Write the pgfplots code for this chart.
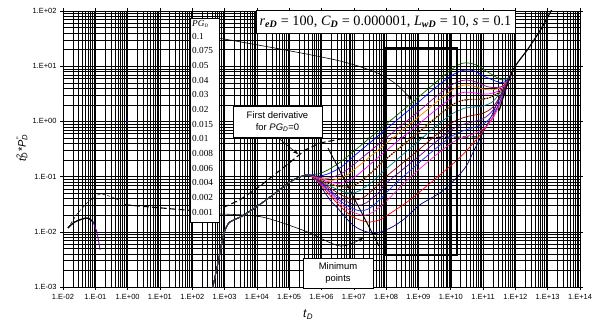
\documentclass[border=0pt]{standalone}
\usepackage{pgfplots}
\pgfplotsset{compat=1.18}
\usepackage{fontspec}
\setmainfont{Liberation Serif}
\setsansfont{Liberation Sans}
\usetikzlibrary{arrows.meta}
\definecolor{cgreen}{RGB}{0,100,0}
\definecolor{cblue}{RGB}{0,0,255}
\definecolor{cpurple}{RGB}{153,0,153}
\definecolor{corange}{RGB}{255,128,0}
\definecolor{cmagenta}{RGB}{255,0,255}
\definecolor{cteal}{RGB}{0,128,128}
\definecolor{cbrown}{RGB}{128,0,0}
\definecolor{cpurpleb}{RGB}{102,0,153}
\definecolor{cblueb}{RGB}{40,40,255}
\definecolor{cmagentab}{RGB}{255,40,200}
\definecolor{cred}{RGB}{255,0,0}
\definecolor{cnavy}{RGB}{0,0,128}
\newcommand{\C}{(4e2,7.94e-4) (6.31e2,2.82e-3) (8.91e2,7.94e-3) (1.12e3,1.2e-2) (1.41e3,1.48e-2) (2e3,1.66e-2) (3.16e3,1.86e-2) (5.01e3,2.19e-2) (1.58e4,3.47e-2) (5.01e4,5.75e-2) (1.26e5,8.51e-2) (2.51e5,1.02e-1) (3.98e5,1.07e-1)}
\begin{document}
\begin{tikzpicture}
\path[use as bounding box] (-63bp,-37bp) rectangle (529bp,287bp);
\begin{axis}[
  scale only axis, width=517bp, height=276bp,
  xmode=log, ymode=log, xmin=1e-2, xmax=1e14, ymin=1e-3, ymax=1e2,
  xtick={1e-2,1e-1,1,1e1,1e2,1e3,1e4,1e5,1e6,1e7,1e8,1e9,1e10,1e11,1e12,1e13,1e14},
  xticklabels={1.E-02,1.E-01,1.E+00,1.E+01,1.E+02,1.E+03,1.E+04,1.E+05,1.E+06,1.E+07,1.E+08,1.E+09,1.E+10,1.E+11,1.E+12,1.E+13,1.E+14},
  ytick={1e-3,1e-2,1e-1,1,1e1,1e2},
  yticklabels={1.E-03,1.E-02,1.E-01,1.E+00,1.E+01,1.E+02},
  grid=both,
  major grid style={black, line width=0.55pt},
  minor grid style={black, line width=0.4pt},
  tick align=outside, major tick length=3bp, minor tick length=0pt,
  tick style={black, line width=0.6pt},
  ticklabel style={font=\sffamily\fontsize{7.5}{9}\selectfont},
  xticklabel style={yshift=-1bp},
  axis line style={black, line width=0.8pt},
  xlabel={\textit{t}\textsubscript{\textit{D}}},
  xlabel style={font=\sffamily\fontsize{12}{14}\selectfont, at={(axis description cs:0.474,-0.1014)}, anchor=center},
  ylabel={\textit{t}\rlap{\textsuperscript{2}}\textsubscript{\textit{D}}*\textit{P}\rlap{\textsuperscript{\,''}}\textsubscript{\textit{D}}},
  ylabel style={font=\sffamily\fontsize{11}{13}\selectfont, at={(axis description cs:-0.0793,0.504)}, anchor=center, rotate=0},
  every axis plot/.append style={line width=0.7pt},
]
% early-time curves near the left
\addplot[black, line width=0.5pt, dash pattern=on 3pt off 2pt] coordinates {(1.41e-2,1.17e-2) (2.88e-2,2.19e-2) (5.89e-2,3.47e-2) (1.20e-1,4.68e-2) (1.74e-1,4.79e-2) (3.31e-1,4.27e-2) (5.01e-1,3.80e-2)};
\addplot[black, line width=1.1pt, dash pattern=on 6pt off 3pt] coordinates {(8.32e-1,3.09e-2) (2.95e1,2.57e-2) (8.51e1,2.45e-2) (8.32e2,2.69e-2) (3.02e3,3.80e-2) (1.26e4,6.76e-2) (1.07e5,1.82e-1) (3.09e5,3.02e-1) (9.12e5,4.07e-1) (3.80e6,4.79e-1) (6.46e7,5.01e-1) (6.61e10,5.25e-1)};
\addplot[black, line width=1.4pt, smooth] coordinates {(1.41e-2,1.17e-2) (2.34e-2,1.51e-2) (5.50e-2,1.78e-2) (8.51e-2,1.51e-2)};
\addplot[cpurpleb, line width=0.9pt] coordinates {(8.51e-2,1.51e-2) (1.12e-1,1e-2) (1.41e-1,4.68e-3)};
\addplot[only marks, mark=*, mark size=0.7pt, cblue] coordinates {(1,1)};
% PG_D curves
\addplot[cnavy, smooth] coordinates {\C (6.31e5,9.55e-2) (1e6,6.31e-2) (2e6,3.55e-2) (3.16e6,2.69e-2) (7.94e6,1.45e-2) (1.58e7,1.10e-2) (3.98e7,9.33e-3) (6.31e7,9.77e-3) (1.58e8,1.23e-2) (3.98e8,1.78e-2) (1.12e9,3.09e-2) (5.01e9,5.25e-2) (1.58e10,9.77e-2) (3.16e10,1.62e-1) (5.01e10,2.82e-1) (1e11,6.31e-1) (2e11,1.41) (3.98e11,3.55) (7.94e11,7.94)};
\addplot[cred, smooth] coordinates {\C (7.94e5,7.94e-2) (1.58e6,5.01e-2) (3.98e6,2.82e-2) (1e7,1.82e-2) (2.57e7,1.51e-2) (5.01e7,1.58e-2) (7.94e7,1.78e-2) (4.47e8,3.47e-2) (2.29e9,7.59e-2) (1.58e10,2e-1) (3.98e10,3.47e-1) (1e11,6.61e-1) (2e11,1.20) (3.98e11,2.82) (7.94e11,7.94)};
\addplot[cmagentab, smooth] coordinates {\C (7.94e5,8.13e-2) (1.58e6,5.50e-2) (3.98e6,3.16e-2) (1e7,2.24e-2) (2e7,2.0e-2) (3.98e7,2.29e-2) (1e8,3.55e-2) (3.16e8,7.08e-2) (1e9,1.32e-1) (3.16e9,2.34e-1) (1e10,3.98e-1) (2e10,4.90e-1) (3.98e10,5.62e-1) (1e11,7.24e-1) (2e11,1.12) (3.98e11,2.63) (7.94e11,7.94)};
\addplot[cblueb, smooth] coordinates {\C (7.94e5,8.32e-2) (1.58e6,5.75e-2) (3.98e6,3.55e-2) (7.94e6,2.75e-2) (1.58e7,2.40e-2) (3.16e7,2.69e-2) (7.94e7,4.37e-2) (2e8,7.59e-2) (1e9,1.74e-1) (3.16e9,3.09e-1) (1e10,5.25e-1) (2e10,6.46e-1) (3.98e10,7.41e-1) (1e11,8.91e-1) (2e11,1.32) (3.98e11,2.88) (7.94e11,7.94)};
\addplot[cpurpleb, smooth] coordinates {\C (7.94e5,8.51e-2) (1.58e6,6.17e-2) (3.98e6,3.98e-2) (1.26e7,3.02e-2) (2.51e7,3.39e-2) (6.31e7,5.37e-2) (1e8,7.59e-2) (1e9,2.29e-1) (3.16e9,4.07e-1) (1e10,6.92e-1) (2e10,8.51e-1) (3.98e10,9.55e-1) (1e11,1.12) (2e11,1.58) (3.98e11,3.16) (7.94e11,7.94)};
\addplot[cbrown, smooth] coordinates {\C (7.94e5,8.71e-2) (1.58e6,6.61e-2) (3.98e6,4.68e-2) (1e7,3.80e-2) (2e7,4.17e-2) (5.01e7,6.61e-2) (1e8,1e-1) (1e9,3.02e-1) (3.16e9,5.37e-1) (1e10,9.12e-1) (2e10,1.12) (3.98e10,1.26) (1e11,1.41) (2e11,1.82) (3.98e11,3.39) (7.94e11,7.94)};
\addplot[cteal, smooth] coordinates {\C (7.94e5,8.91e-2) (1.58e6,7.08e-2) (3.98e6,5.50e-2) (8.32e6,5.01e-2) (1.58e7,5.62e-2) (3.98e7,8.32e-2) (1e8,1.38e-1) (1e9,4.37e-1) (3.16e9,7.76e-1) (1e10,1.32) (1.78e10,1.58) (2.82e10,1.74) (5.01e10,1.82) (1e11,1.91) (2e11,2.29) (3.98e11,3.80) (7.94e11,7.94)};
\addplot[corange, smooth] coordinates {\C (7.94e5,9.12e-2) (1.58e6,7.59e-2) (3.16e6,6.76e-2) (6.31e6,6.46e-2) (1.26e7,7.41e-2) (3.16e7,1.12e-1) (1e8,2.09e-1) (1e9,6.31e-1) (3.16e9,1.12) (1e10,1.91) (1.78e10,2.29) (2.82e10,2.45) (5.01e10,2.51) (7.94e10,2.51) (1.58e11,2.69) (3.16e11,3.39) (5.01e11,4.79) (7.94e11,7.94)};
\addplot[black, line width=1.2pt, dash pattern=on 1.2pt off 1.6pt, smooth] coordinates {\C (7.94e5,9.12e-2) (1.58e6,7.59e-2) (3.16e6,6.76e-2) (6.31e6,6.46e-2) (1.26e7,7.41e-2) (3.16e7,1.12e-1) (1e8,2.09e-1) (1e9,6.31e-1) (3.16e9,1.12) (1e10,1.91) (1.78e10,2.29) (2.82e10,2.45) (5.01e10,2.51) (7.94e10,2.51) (1.58e11,2.69) (3.16e11,3.39) (5.01e11,4.79) (7.94e11,7.94)};
\addplot[cmagenta, smooth] coordinates {\C (7.94e5,9.33e-2) (1.58e6,8.13e-2) (3.55e6,7.59e-2) (7.94e6,8.71e-2) (2e7,1.32e-1) (1e8,2.95e-1) (1e9,8.91e-1) (3.16e9,1.55) (1e10,2.63) (1.78e10,3.16) (2.82e10,3.39) (5.01e10,3.31) (7.94e10,3.16) (1.58e11,3.16) (3.16e11,3.63) (5.01e11,4.79) (7.94e11,7.94)};
\addplot[corange, smooth] coordinates {\C (7.94e5,9.55e-2) (2e6,8.51e-2) (5.01e6,1e-1) (1e7,1.32e-1) (1e8,3.98e-1) (1e9,1.20) (3.16e9,2.09) (1e10,3.55) (1.78e10,4.27) (2.82e10,4.57) (5.01e10,4.37) (7.94e10,3.98) (1.58e11,3.72) (3.16e11,3.98) (5.01e11,5.01) (7.94e11,7.94)};
\addplot[cpurple, smooth] coordinates {\C (7.94e5,9.77e-2) (1.58e6,9.33e-2) (3.98e6,1.12e-1) (1e7,1.66e-1) (1e8,5.01e-1) (1e9,1.51) (3.16e9,2.69) (1e10,4.47) (1.78e10,5.25) (2.82e10,5.62) (5.01e10,5.37) (7.94e10,4.79) (1.58e11,4.17) (3.16e11,4.17) (5.01e11,4.79) (7.94e11,7.94)};
\addplot[cblue, smooth] coordinates {\C (7.94e5,1.02e-1) (1.58e6,1.12e-1) (3.98e6,1.48e-1) (1e7,2.34e-1) (1e8,7.24e-1) (1e9,2.24) (3.16e9,3.98) (1e10,6.61) (1.78e10,7.94) (2.82e10,8.51) (5.01e10,8.32) (7.94e10,7.24) (1.26e11,6.31) (2e11,5.62) (3.16e11,5.13) (4.47e11,5.13) (6.31e11,6.03) (7.94e11,7.94)};
\addplot[cgreen, smooth] coordinates {\C (7.94e5,1.12e-1) (1.58e6,1.32e-1) (3.98e6,1.86e-1) (1e7,2.88e-1) (1e8,8.91e-1) (1e9,2.75) (3.16e9,4.90) (1e10,8.51) (1.78e10,10.7) (2.82e10,11.5) (5.01e10,11.0) (7.94e10,9.77) (1.26e11,8.13) (2e11,6.92) (3.16e11,5.89) (4.47e11,5.62) (6.31e11,6.31) (7.94e11,7.94)};
\addplot[black, line width=1.2pt, smooth] coordinates {(3.16e11,1.58) (7.94e11,7.94) (2.51e12,20.9) (6.31e12,47.9) (1.58e13,126)};
\end{axis}
\begin{scope}[x=1bp, y=-1bp, shift={(-63bp,287bp)}]
  % zoom rectangle and minimum locus
  \draw[line width=1.2pt] (385,48) rectangle (457,255);
  \draw[line width=0.9pt] (328,148) -- (379,246);
  % arrows from legend labels
  \draw[line width=0.6pt, -{Stealth[length=5bp,width=4bp]}] plot[smooth] coordinates {(207,36) (280,49) (340,61) (375,72) (396,84) (412,100)};
  \draw[line width=0.6pt, -{Stealth[length=5bp,width=4bp]}] plot[smooth] coordinates {(220,214) (262,217) (305,231) (340,246) (363,238)};
  % legend box
  \draw[fill=white, line width=0.6pt] (190,18) rectangle (219,222);
  \begin{scope}[every node/.style={anchor=west, inner sep=0pt, font=\fontsize{9.3}{10}\selectfont}]
    \node at (192,24) {\textit{PG}\textsubscript{\textit{\fontsize{5}{5}\selectfont D}}};
    \node at (192,36.0) {0.1};
    \node at (192,50.7) {0.075};
    \node at (192,65.3) {0.05};
    \node at (192,80.0) {0.04};
    \node at (192,94.7) {0.03};
    \node at (192,109.3) {0.02};
    \node at (192,124.0) {0.015};
    \node at (192,138.7) {0.01};
    \node at (192,153.3) {0.008};
    \node at (192,168.0) {0.006};
    \node at (192,182.7) {0.004};
    \node at (192,197.3) {0.002};
    \node at (192,212.0) {0.001};
  \end{scope}
  % title box
  \node[draw, fill=white, line width=0.6pt, minimum width=259bp, minimum height=23bp, inner sep=0pt, font=\fontsize{14.3}{16}\selectfont] at (385.5,21.5)
    {\textit{r}\textsubscript{\textbf{\textit{eD}}} = 100, \textit{C}\textsubscript{\textbf{\textit{D}}} = 0.000001, \textit{L}\textsubscript{\textbf{\textit{wD}}} = 10, \textit{s} = 0.1};
  % First derivative box
  \node[draw, fill=white, line width=0.6pt, minimum width=89bp, minimum height=31bp, inner sep=0pt, align=center, font=\sffamily\fontsize{9.5}{12}\selectfont] at (277.5,121.5)
    {First derivative\\for \textit{PG}\textsubscript{\textit{D}}=0};
  \draw[line width=0.6pt, -{Stealth[length=5bp,width=4bp]}] (277,137) -- (298,154);
  % Minimum points box
  \node[draw, fill=white, line width=0.6pt, minimum width=70bp, minimum height=30bp, inner sep=0pt, align=center, font=\sffamily\fontsize{9.5}{12}\selectfont] at (338,273)
    {Minimum\\points};
\end{scope}
\end{tikzpicture}
\end{document}
